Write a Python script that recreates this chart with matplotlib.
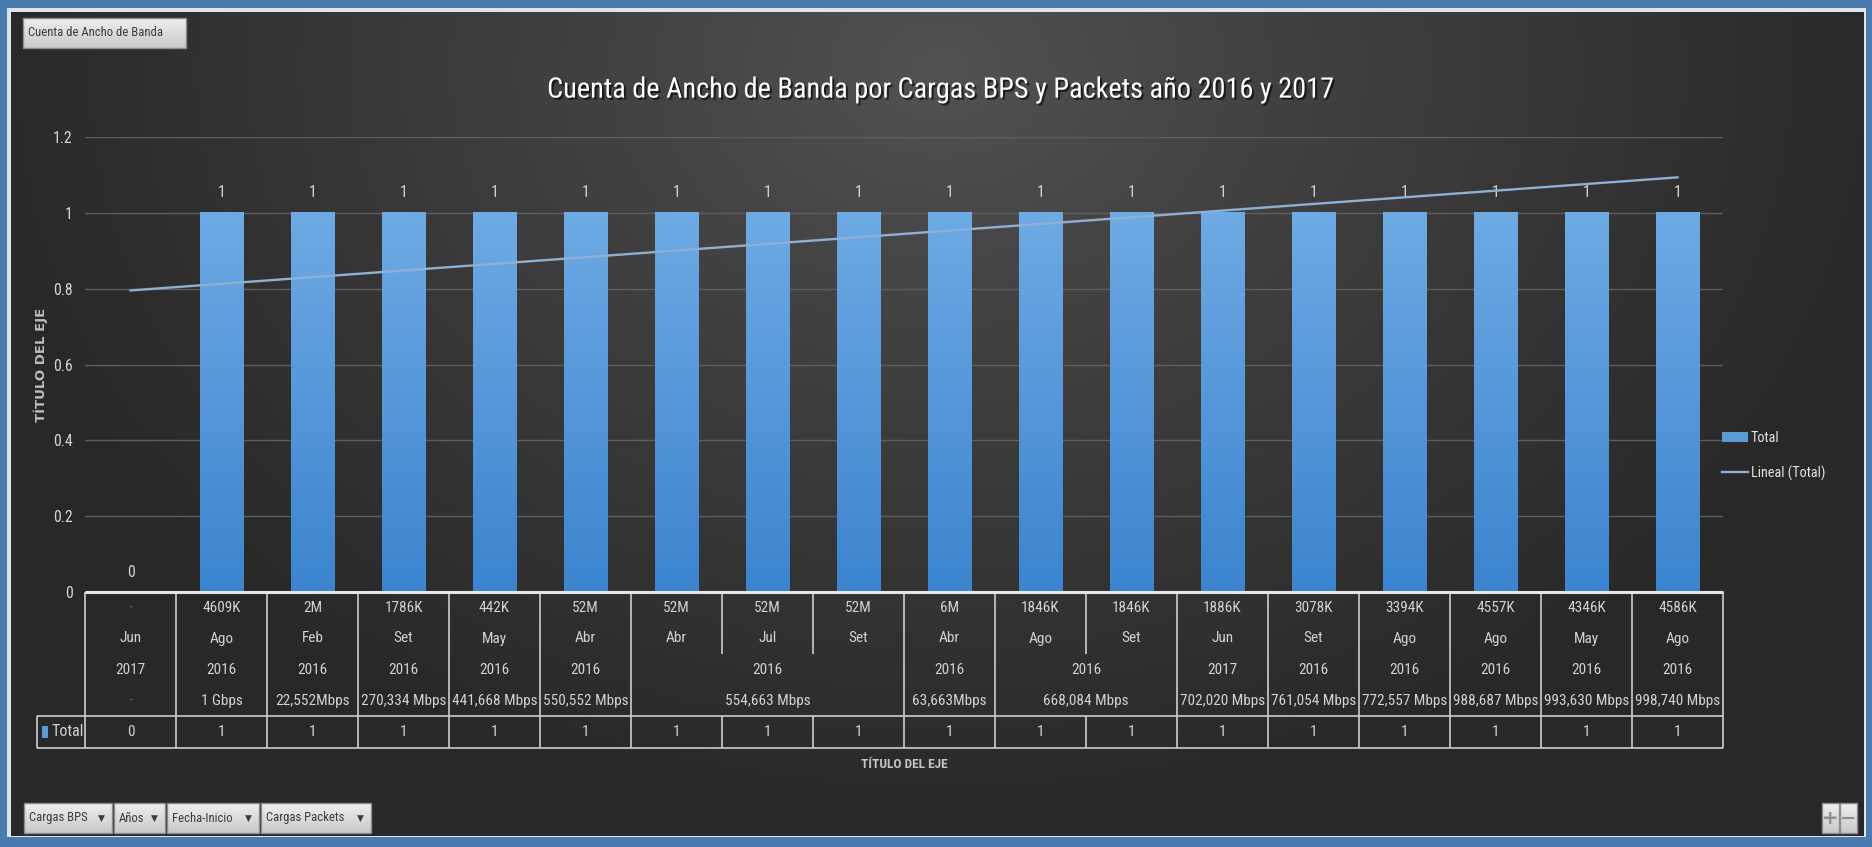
import numpy as np
import matplotlib
matplotlib.use("Agg")
import matplotlib.pyplot as plt
from matplotlib import font_manager, patheffects, transforms
from matplotlib.colors import to_rgb
from matplotlib.font_manager import FontProperties
from matplotlib.patches import Rectangle
from matplotlib.textpath import TextPath

# ---------------------------------------------------------------- data
cargas_packets = ["-", "4609K", "2M", "1786K", "442K", "52M", "52M", "52M", "52M",
                  "6M", "1846K", "1846K", "1886K", "3078K", "3394K", "4557K", "4346K", "4586K"]
meses = ["Jun", "Ago", "Feb", "Set", "May", "Abr", "Abr", "Jul", "Set",
         "Abr", "Ago", "Set", "Jun", "Set", "Ago", "Ago", "May", "Ago"]
anios = ["2017", "2016", "2016", "2016", "2016", "2016", "2016", "2016", "2016",
         "2016", "2016", "2016", "2017", "2016", "2016", "2016", "2016", "2016"]
cargas_bps = ["-", "1 Gbps", "22,552Mbps", "270,334 Mbps", "441,668 Mbps", "550,552 Mbps",
              "554,663 Mbps", "554,663 Mbps", "554,663 Mbps", "63,663Mbps",
              "668,084 Mbps", "668,084 Mbps", "702,020 Mbps", "761,054 Mbps",
              "772,557 Mbps", "988,687 Mbps", "993,630 Mbps", "998,740 Mbps"]
totales = [0, 1, 1, 1, 1, 1, 1, 1, 1, 1, 1, 1, 1, 1, 1, 1, 1, 1]

y_ticks = [0, 0.2, 0.4, 0.6, 0.8, 1.0, 1.2]
y_tick_labels = ["0", "0.2", "0.4", "0.6", "0.8", "1", "1.2"]

titulo = "Cuenta de Ancho de Banda por Cargas BPS y Packets año 2016 y 2017"
titulo_eje = "TÍTULO DEL EJE"
serie = "Total"
tendencia = "Lineal (Total)"
campo_valor = "Cuenta de Ancho de Banda"
filtros = ["Cargas BPS", "Años", "Fecha-Inicio", "Cargas Packets"]


# ---------------------------------------------------------------- fonts
def pick_font():
    entries = font_manager.fontManager.ttflist

    def has(name, stretch=None):
        return any(f.name == name and (stretch is None or f.stretch == stretch)
                   for f in entries)

    for name in ["Liberation Sans Narrow", "Arial Narrow", "Roboto Condensed",
                 "Open Sans Condensed", "Noto Sans Condensed", "DejaVu Sans Condensed"]:
        if has(name):
            return name, "normal"
    for name in ["Noto Sans", "Open Sans", "DejaVu Sans", "Roboto"]:
        for st in ["condensed", "semi-condensed"]:
            if has(name, st):
                return name, st
    for name in ["Roboto", "Liberation Sans"]:
        if has(name):
            return name, "normal"
    return "DejaVu Sans", "normal"


NARROW, STRETCH = pick_font()
plt.rcParams["font.family"] = [NARROW, "DejaVu Sans"]
plt.rcParams["font.stretch"] = STRETCH


def fit(text, target_px, cap, weight="normal", family=None):
    """Font size (pt at 100 dpi) giving the text the wanted pixel width, capped."""
    prop = FontProperties(family=family or NARROW, weight=weight,
                          stretch=STRETCH if family is None else "normal")
    w = TextPath((0, 0), text, size=100, prop=prop).get_extents().width
    return min(cap, target_px * 72.0 / w) if w > 0 else cap


FS_TITLE = fit(titulo, 784, 22)
FS_TABLE = fit("998,740 Mbps", 84, 12.5)
FS_TICK = fit("0.8", 18, 13)
FS_LEG = fit(tendencia, 73, 11.5)
FS_BTN = fit(campo_valor, 132, 9.5)
FS_XT = fit(titulo_eje, 86, 11, weight="bold")

# ---------------------------------------------------------------- canvas
W, H, DPI = 1872, 847, 100
fig = plt.figure(figsize=(W / DPI, H / DPI), dpi=DPI)
fig.patch.set_facecolor("#4a7bb0")


def pixel_axes(z):
    a = fig.add_axes([0, 0, 1, 1], zorder=z)
    a.set_xlim(0, W)
    a.set_ylim(H, 0)
    a.axis("off")
    a.patch.set_alpha(0)
    return a


def vgrad(a, x0, y0, x1, y1, top, bottom, z=1):
    g = np.linspace(0, 1, 64)[:, None, None]
    c = np.array(to_rgb(top)) * (1 - g) + np.array(to_rgb(bottom)) * g
    a.imshow(c, extent=(x0, x1, y1, y0), origin="upper", aspect="auto",
             interpolation="bilinear", zorder=z)


# background: blue frame, thin light rim, dark radial gradient
bg = pixel_axes(0)
bg.add_patch(Rectangle((7, 8), 1859, 829, facecolor="#dfe4ea", edgecolor="none", zorder=0))
yy, xx = np.mgrid[12:836, 11:1864]
d = np.clip(np.sqrt(((xx - 940) / 980.0) ** 2 + ((yy - 70) / 760.0) ** 2), 0, 1) ** 0.85
c_in, c_out = np.array(to_rgb("#535353")), np.array(to_rgb("#282828"))
img = c_in + (c_out - c_in) * d[..., None]
bg.imshow(img, extent=(11, 1864, 836, 12), origin="upper", aspect="auto",
          interpolation="bilinear", zorder=1)
bg.set_xlim(0, W)
bg.set_ylim(H, 0)

# ---------------------------------------------------------------- chart
LEFT, RIGHT, TOP, BASE = 85, 1723, 137, 592
n = len(totales)
x = np.arange(n)

ax = fig.add_axes([LEFT / W, 1 - BASE / H, (RIGHT - LEFT) / W, (BASE - TOP) / H], zorder=1)
ax.patch.set_alpha(0)

bars = ax.bar(x, totales, width=0.48, color="#5b9bd5", zorder=2, label=serie)
for b in bars:
    if b.get_height() > 0:
        g = np.linspace(0, 1, 128)[:, None, None]
        top_c, bot_c = np.array(to_rgb("#6eaae4")), np.array(to_rgb("#3c84cf"))
        ax.imshow(top_c * (1 - g) + bot_c * g,
                  extent=(b.get_x(), b.get_x() + b.get_width(), 0, b.get_height()),
                  origin="upper", aspect="auto", interpolation="bilinear", zorder=2.1)
ax.bar_label(bars, fmt="%g", padding=9, color="#d4d4d4", fontsize=FS_TICK)

# linear trend line of the totals
coef = np.polyfit(x + 1, totales, 1)
(trend,) = ax.plot(x, np.polyval(coef, x + 1), color="#8fb0d2", lw=1.7, zorder=3,
                   label=tendencia)

ax.set_xlim(-0.5, n - 0.5)
ax.set_ylim(0, 1.2)
ax.set_yticks(y_ticks)
ax.set_yticklabels(y_tick_labels)
ax.set_xticks([])
ax.tick_params(axis="y", length=0, pad=9, labelcolor="#d6d6d6", labelsize=FS_TICK)
ax.grid(axis="y", color="#5e5e5e", lw=1, zorder=0)
ax.set_axisbelow(True)
for s in ax.spines.values():
    s.set_visible(False)

ax.set_ylabel(titulo_eje, family="DejaVu Sans", fontweight="bold", fontsize=9.5,
              fontstretch="normal", color="#bdbdbd", va="center")
ax.yaxis.set_label_coords((41 - LEFT) / (RIGHT - LEFT), 0.5)
ax.set_xlabel(titulo_eje, fontweight="bold", fontsize=FS_XT, color="#c4c4c4", va="center")
ax.xaxis.set_label_coords(0.5, (BASE - 764) / (BASE - TOP))

ax.legend(handles=[bars, trend], labels=[serie, tendencia],
          loc="upper left", bbox_to_anchor=(1722 / W, 1 - 431 / H),
          bbox_transform=fig.transFigure, frameon=False, fontsize=FS_LEG,
          labelcolor="#e2e2e2", handlelength=1.85, handleheight=0.8,
          handletextpad=0.15, labelspacing=1.45, borderpad=0, borderaxespad=0)

fig.suptitle(titulo, x=940 / W, y=1 - 90 / H, va="center", ha="center",
             fontsize=FS_TITLE, color="white",
             path_effects=[patheffects.withSimplePatchShadow(offset=(1.5, -1.5),
                                                             shadow_rgbFace="black",
                                                             alpha=0.6)])

# ---------------------------------------------------------------- data table
ov = pixel_axes(3)
tx = transforms.blended_transform_factory(ax.transData, ov.transData)
row_edges = [592, 623, 654, 685, 716, 748]
niveles = [cargas_packets, meses, anios, cargas_bps]
line_kw = dict(color="#cdcdcd", lw=1.2, solid_capstyle="butt", zorder=5)
text_kw = dict(ha="center", va="center", fontsize=FS_TABLE, color="#d2d2d2", zorder=6)


def vline(xv, y0, y1):
    ov.plot([xv, xv], [y0, y1], transform=tx, **line_kw)


for r, nivel in enumerate(niveles):
    yc = (row_edges[r] + row_edges[r + 1]) / 2
    if r == 0:
        groups = [(i, i) for i in range(n)]
    else:
        keys = [tuple(niveles[k][i] for k in range(r, len(niveles))) for i in range(n)]
        groups, start = [], 0
        for i in range(1, n + 1):
            if i == n or keys[i] != keys[start]:
                groups.append((start, i - 1))
                start = i
    for a_, b_ in groups:
        lab = nivel[a_]
        if lab == "-":
            ov.text((a_ + b_) / 2, yc, lab, transform=tx, ha="center", va="center",
                    fontsize=7, color="#8a8a8a", zorder=6)
        else:
            ov.text((a_ + b_) / 2, yc, lab, transform=tx, **text_kw)

for i in range(n - 1):
    diff = [k for k in range(len(niveles)) if niveles[k][i] != niveles[k][i + 1]]
    depth = max(diff) if diff else 0
    vline(i + 0.5, row_edges[0], row_edges[depth + 1])
    vline(i + 0.5, row_edges[4], row_edges[5])
vline(-0.5, row_edges[0], row_edges[5])
vline(n - 0.5, row_edges[0], row_edges[5])

ov.plot([-0.5, n - 0.5], [row_edges[0], row_edges[0]], transform=tx,
        color="#e6e6e6", lw=2.2, solid_capstyle="butt", zorder=5)
for yv in (row_edges[4], row_edges[5]):
    ov.plot([-0.5, n - 0.5], [yv, yv], transform=tx, **line_kw)
    ov.plot([37, LEFT], [yv, yv], **line_kw)
ov.plot([37, 37], [row_edges[4], row_edges[5]], **line_kw)

y_tot = (row_edges[4] + row_edges[5]) / 2
for i, v in enumerate(totales):
    ov.text(i, y_tot, f"{v:g}", transform=tx, **text_kw)
ov.add_patch(Rectangle((42, y_tot - 6), 6, 12, facecolor="#5b9bd5", edgecolor="none", zorder=6))
ov.text(51, y_tot, serie, ha="left", va="center", fontsize=fit(serie, 31, 11.5),
        color="#d2d2d2", zorder=6)


# ---------------------------------------------------------------- pivot buttons
def button(x0, y0, x1, y1, label=None, arrow=False):
    vgrad(ov, x0, y0, x1, y1, "#efefef", "#c9c9c9", z=7)
    ov.add_patch(Rectangle((x0, y0), x1 - x0, y1 - y0, facecolor="none",
                           edgecolor="#8c8c8c", lw=1, zorder=8))
    if label:
        ov.text(x0 + 5, (y0 + y1) / 2, label, ha="left", va="center",
                fontsize=FS_BTN, color="#3c3c3c", zorder=9)
    if arrow:
        ov.text(x1 - 11, (y0 + y1) / 2, "▼", ha="center", va="center",
                fontsize=6.5, color="#3c3c3c", family="DejaVu Sans", zorder=9)


button(23, 18, 186, 48, campo_valor)
for lab, (bx0, bx1) in zip(filtros, [(24, 112), (114, 165), (167, 259), (261, 371)]):
    button(bx0, 803, bx1, 833, lab, arrow=True)

for sym, (bx0, bx1) in zip(["+", "−"], [(1822, 1839), (1840, 1857)]):
    button(bx0, 803, bx1, 833)
    ov.text((bx0 + bx1) / 2, 818, sym, ha="center", va="center", fontsize=14,
            fontweight="bold", color="#8f8f8f", family="DejaVu Sans", zorder=9)

ov.set_xlim(0, W)
ov.set_ylim(H, 0)

fig.savefig("out.png", dpi=DPI, facecolor=fig.get_facecolor())
